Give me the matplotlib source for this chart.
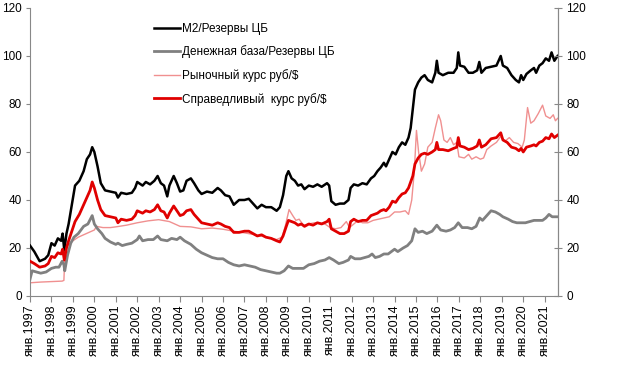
import matplotlib
matplotlib.use("Agg")
import matplotlib.pyplot as plt

plt.rcParams['font.family'] = ['Liberation Sans', 'DejaVu Sans']

# --------- Данные (годы в десятичном виде) ---------
m2_t = [1997.0, 1997.2, 1997.45, 1997.7, 1997.85, 1998.0, 1998.15, 1998.3, 1998.45, 1998.52,
        1998.6, 1998.7, 1998.8, 1998.95, 1999.1, 1999.3, 1999.5, 1999.65, 1999.8, 1999.9,
        2000.0, 2000.15, 2000.3, 2000.5, 2000.75, 2001.0, 2001.1, 2001.25, 2001.5, 2001.75,
        2001.9, 2002.0, 2002.25, 2002.4, 2002.6, 2002.8, 2002.95, 2003.1, 2003.25, 2003.4,
        2003.5, 2003.7, 2003.85, 2004.0, 2004.15, 2004.3, 2004.5, 2004.65, 2004.85, 2005.0,
        2005.25, 2005.5, 2005.75, 2005.9, 2006.1, 2006.3, 2006.5, 2006.75, 2007.0, 2007.2,
        2007.4, 2007.6, 2007.8, 2008.0, 2008.25, 2008.5, 2008.65, 2008.8, 2008.95, 2009.05,
        2009.2, 2009.35, 2009.5, 2009.65, 2009.8, 2010.0, 2010.2, 2010.4, 2010.6, 2010.85,
        2010.95, 2011.05, 2011.25, 2011.45, 2011.65, 2011.85, 2011.95, 2012.1, 2012.3, 2012.5,
        2012.7, 2012.9, 2013.05, 2013.2, 2013.35, 2013.5, 2013.6, 2013.75, 2013.9, 2014.05,
        2014.2, 2014.35, 2014.5, 2014.65, 2014.75, 2014.85, 2014.95, 2015.1, 2015.25, 2015.4,
        2015.55, 2015.75, 2015.9, 2015.97, 2016.05, 2016.25, 2016.5, 2016.75, 2016.9, 2016.97,
        2017.05, 2017.25, 2017.45, 2017.65, 2017.85, 2017.95, 2018.05, 2018.25, 2018.5, 2018.75,
        2018.95, 2019.05, 2019.25, 2019.45, 2019.65, 2019.8, 2019.9, 2020.0, 2020.15, 2020.35,
        2020.5, 2020.6, 2020.75, 2020.9, 2021.05, 2021.2, 2021.32, 2021.45, 2021.6]

m2_res = [21, 18.5, 14.5, 15.5, 17, 22, 21, 24, 23, 26,
          19, 26, 30, 38, 46, 48, 52, 57, 59, 62,
          60, 54, 47, 44, 43.5, 43, 41, 43, 42.5, 43,
          45, 47.5, 46, 47.5, 46.5, 48, 50, 47, 46, 41.5,
          46, 50, 47, 43.5, 44, 48, 49, 47, 44, 42.5,
          43.5, 43, 45, 44, 42, 41.5, 38, 40, 40, 40.5,
          38.5, 36.5, 38, 37, 37, 35.5, 37, 42, 50, 52,
          49, 48, 46, 46.5, 44.5, 46, 45.5, 46.5, 45.5, 47,
          46, 39.5, 38, 38.5, 38.5, 40, 45, 46.5, 46, 47,
          46.5, 49, 50, 52, 53.5, 55.5, 54, 57, 60, 59,
          62, 64, 63, 66, 70, 78, 86, 89, 91, 92,
          90, 89, 93, 98, 93, 92, 93, 93, 95, 101.5,
          96, 95.5, 93, 93, 94, 97.5, 93, 95, 95.5, 96,
          100, 96, 95, 92, 90, 89, 92, 90, 92.5, 94,
          95, 93, 96, 97, 99, 98, 101.5, 98, 100]

fair_rate = [14.5, 13.5, 12, 12.5, 13.5, 16.5, 16, 18, 17.5, 19.5,
             15, 20, 23, 27, 31, 34, 38, 41, 44, 47.5,
             45, 40, 36, 33.5, 33, 32.5, 30.5, 32, 31.5, 32,
             33.5, 35.5, 34.5, 35.5, 35, 36, 38, 35.5, 35, 32.5,
             34.5, 37.5, 35.5, 33.5, 34, 35.5, 36, 34, 32, 30.5,
             30, 29.5, 30.5, 30, 29, 28.5, 26.5, 26.5, 27, 27,
             26, 25, 25.5, 24.5, 24, 23, 22.5, 25, 29, 31.5,
             31, 30.5, 29.5, 30, 29, 30, 29.5, 30.5, 30, 31,
             32, 28, 27, 26, 26, 27, 31, 32, 31, 31.5,
             31.5, 33.5, 34, 34.5, 35.5, 36, 35.5, 37, 39.5, 39,
             41, 42.5, 43, 45, 47.5, 50, 55, 57.5, 59, 59.5,
             59, 60, 61, 64, 61, 61, 60.5, 61.5, 62, 66,
             62.5, 62, 61, 61.5, 62.5, 65, 62, 63, 65.5, 66,
             68, 65, 64, 62, 61.5, 60.5, 61.5, 60, 62, 62.5,
             63, 62.5, 64, 64.5, 66, 65.5, 67.5, 66, 67]

mkt_t = [1997.0, 1997.5, 1998.0, 1998.5, 1998.58, 1998.63, 1998.75, 1999.0, 1999.25, 1999.5,
         1999.75, 2000.0, 2000.1, 2000.4, 2000.75, 2001.0, 2001.5, 2002.0, 2002.5, 2003.0,
         2003.5, 2004.0, 2004.5, 2005.0, 2005.5, 2006.0, 2006.5, 2007.0, 2007.5, 2008.0,
         2008.5, 2008.75, 2008.9, 2009.08, 2009.25, 2009.4, 2009.55, 2009.75, 2010.0, 2010.25,
         2010.5, 2010.75, 2011.0, 2011.25, 2011.5, 2011.75, 2011.9, 2012.1, 2012.3, 2012.5,
         2012.75, 2013.0, 2013.25, 2013.5, 2013.75, 2014.0, 2014.25, 2014.5, 2014.65, 2014.8,
         2014.92, 2015.02, 2015.12, 2015.25, 2015.4, 2015.55, 2015.75, 2015.9, 2016.05, 2016.15,
         2016.3, 2016.45, 2016.6, 2016.75, 2016.9, 2017.0, 2017.25, 2017.45, 2017.6, 2017.8,
         2018.0, 2018.15, 2018.3, 2018.5, 2018.75, 2018.95, 2019.15, 2019.35, 2019.55, 2019.75,
         2019.95, 2020.05, 2020.2, 2020.35, 2020.5, 2020.7, 2020.9, 2021.05, 2021.25, 2021.4,
         2021.5, 2021.6]

mkt_rate = [5.5, 5.8, 6, 6.2, 6.5, 18, 21, 23, 24.5, 25.5,
            26.5, 27.5, 29, 28.5, 28.5, 28.8, 29.5, 30.5, 31.3, 31.8,
            31, 29, 28.8, 28, 28.3, 27.8, 27, 26.3, 25.5, 24.5,
            23.5, 24.5, 29, 36, 33.5, 31.5, 32, 29.5, 30, 30.5,
            30.5, 30, 28.5, 28, 28.5, 31, 28.5, 30, 31.5, 30.5,
            30.5, 31.5, 32, 32.5, 33, 35, 35, 35.5, 34, 40,
            52, 69, 60, 52, 55, 62, 64, 70, 75.5, 73,
            65, 64, 66, 63, 64, 58, 57.5, 59, 57, 58,
            57, 57.5, 61, 62.5, 64, 66.5, 64.5, 66, 64, 63.5,
            62, 65, 78.5, 72, 73, 76, 79.5, 75, 74, 75.5,
            73, 74]

mb_t = [1997.0, 1997.1, 1997.3, 1997.5, 1997.75, 1998.0, 1998.2, 1998.35, 1998.5, 1998.58,
        1998.62, 1998.75, 1998.9, 1999.05, 1999.25, 1999.5, 1999.7, 1999.9, 2000.0, 2000.15,
        2000.35, 2000.5, 2000.75, 2001.0, 2001.1, 2001.3, 2001.5, 2001.75, 2002.0, 2002.1,
        2002.25, 2002.5, 2002.75, 2002.95, 2003.1, 2003.4, 2003.6, 2003.85, 2004.0, 2004.2,
        2004.5, 2004.75, 2005.0, 2005.25, 2005.5, 2005.75, 2006.0, 2006.25, 2006.5, 2006.75,
        2007.0, 2007.25, 2007.5, 2007.75, 2008.0, 2008.25, 2008.5, 2008.65, 2008.85, 2009.05,
        2009.25, 2009.5, 2009.75, 2010.0, 2010.25, 2010.5, 2010.75, 2010.95, 2011.15, 2011.4,
        2011.6, 2011.85, 2011.95, 2012.15, 2012.4, 2012.6, 2012.8, 2012.95, 2013.1, 2013.3,
        2013.5, 2013.7, 2013.85, 2014.0, 2014.15, 2014.4, 2014.6, 2014.8, 2014.95, 2015.1,
        2015.3, 2015.5, 2015.75, 2015.97, 2016.15, 2016.4, 2016.6, 2016.8, 2016.97, 2017.15,
        2017.4, 2017.6, 2017.8, 2017.97, 2018.1, 2018.3, 2018.5, 2018.7, 2018.9, 2019.05,
        2019.3, 2019.5, 2019.7, 2019.9, 2020.1, 2020.3, 2020.5, 2020.7, 2020.9, 2021.05,
        2021.2, 2021.35, 2021.5, 2021.6]

mb_res = [7, 10.5, 10, 9.5, 10, 11.5, 12, 12, 14.5, 13,
          10.5, 17, 22, 24.5, 26, 29, 30, 33.5, 30, 28,
          26, 24, 22.5, 21.5, 22, 21, 21.5, 22, 23.5, 25,
          23, 23.5, 23.5, 25, 23.5, 23, 24, 23.5, 24.5, 23,
          21.5, 19.5, 18, 17, 16, 15.5, 15.5, 14, 13, 12.5,
          13, 12.5, 12, 11, 10.5, 10, 9.5, 9.5, 10.5, 12.5,
          11.5, 11.5, 11.5, 13, 13.5, 14.5, 15, 16, 15, 13.5,
          14, 15, 16.5, 15.5, 15.5, 16, 16.5, 17.5, 16, 16.5,
          17.5, 17.5, 18.5, 19.5, 18.5, 20, 21, 23, 28, 26.5,
          27, 26, 27, 29.5, 27.5, 27, 27.5, 28.5, 30.5, 28.5,
          28.5, 28, 29, 32.5, 31.5, 33.5, 35.5, 35, 34, 33,
          32, 31, 30.5, 30.5, 30.5, 31, 31.5, 31.5, 31.5, 32.5,
          34, 33, 33, 33]

years = list(range(1997, 2022))
year_labels = [f"янв.{y}" for y in years]

# --------- Рисунок ---------
fig = plt.figure(figsize=(6.2, 3.76), dpi=100)
ax = fig.add_axes([0.0484, 0.2128, 0.8516, 0.766])

ax.plot(mkt_t, mkt_rate, color='#f09090', lw=1.0, zorder=2, label="Рыночный курс руб/$")
ax.plot(mb_t, mb_res, color='#808080', lw=2.0, zorder=3, label="Денежная база/Резервы ЦБ")
ax.plot(m2_t, m2_res, color='black', lw=1.8, zorder=4, label="М2/Резервы ЦБ")
ax.plot(m2_t, fair_rate, color='#e00000', lw=2.0, zorder=5, label="Справедливый  курс руб/$")

ax.set_xlim(1997.0, 2021.62)
ax.set_ylim(0, 120)
ax.set_yticks(range(0, 121, 20))
ax.set_xticks(years)
ax.set_xticklabels(year_labels, rotation=90, fontsize=9)
ax.tick_params(axis='y', labelsize=8.5, direction='out', length=3, color='#888888', pad=3)
ax.tick_params(axis='x', direction='out', length=4, color='#888888', pad=2)

for s in ['left', 'bottom', 'right']:
    ax.spines[s].set_color('#888888')
ax.spines['top'].set_visible(False)

ax2 = ax.twinx()
ax2.set_ylim(0, 120)
ax2.set_yticks(range(0, 121, 20))
ax2.tick_params(axis='y', labelsize=8.5, direction='inout', length=6, color='#888888', pad=3)
ax2.spines['right'].set_color('#888888')
for s in ['left', 'bottom', 'top']:
    ax2.spines[s].set_visible(False)

h, l = ax.get_legend_handles_labels()
order = [2, 1, 0, 3]
ax.legend([h[i] for i in order], [l[i] for i in order], loc='upper left',
          bbox_to_anchor=(0.215, 0.985), frameon=False, fontsize=8.5,
          handlelength=2.2, handletextpad=0.2, labelspacing=0.9)

fig.savefig("out.png", dpi=100)
